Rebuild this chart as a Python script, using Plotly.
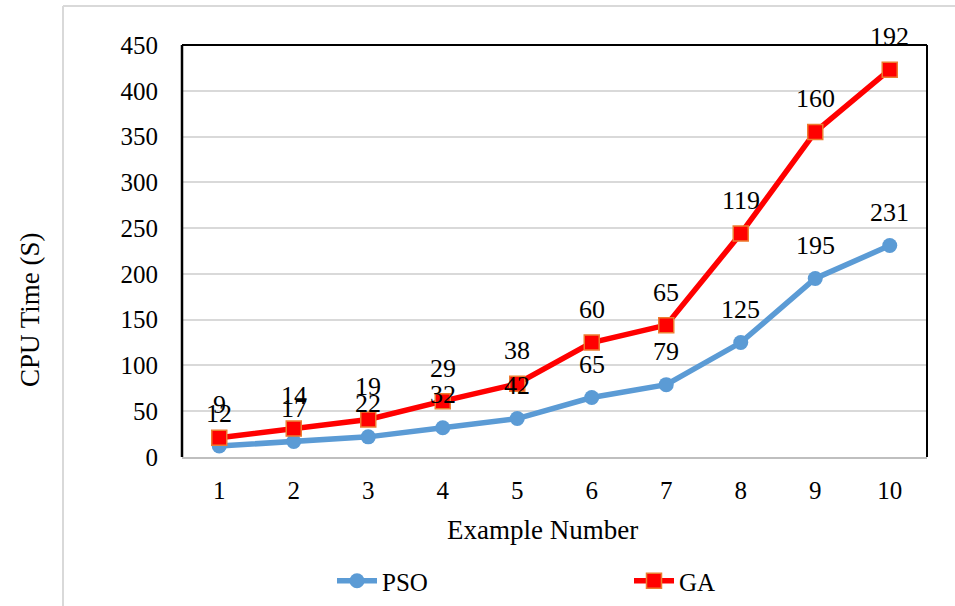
import plotly.graph_objects as go

examples = [1, 2, 3, 4, 5, 6, 7, 8, 9, 10]
pso_time = [12, 17, 22, 32, 42, 65, 79, 125, 195, 231]
ga_time = [9, 14, 19, 29, 38, 60, 65, 119, 160, 192]
y_ticks = [0, 50, 100, 150, 200, 250, 300, 350, 400, 450]

# Excel stacked line chart: GA plotted on top of PSO
ga_stacked = [p + g for p, g in zip(pso_time, ga_time)]

FONT = "Liberation Serif"
W, H = 955, 606
L, R, T, B = 182, 927, 45, 457

def px(x):
    return (x - L) / (R - L)

def py(y):
    return (B - y) / (B - T)

fig = go.Figure()
fig.add_trace(go.Scatter(
    x=examples, y=pso_time, name="PSO", mode="lines+markers",
    line=dict(color="#5B9BD5", width=5.5),
    marker=dict(symbol="circle", size=15, color="#5B9BD5"),
))
fig.add_trace(go.Scatter(
    x=examples, y=ga_stacked, name="GA", mode="lines+markers",
    line=dict(color="#FF0000", width=5.5),
    marker=dict(symbol="square", size=15, color="#FF0000",
                line=dict(color="#ED7D31", width=1.5)),
))

annotations = []
for xv, yv in zip(examples, pso_time):
    annotations.append(dict(x=xv, y=yv, text=str(yv), showarrow=False,
                            yshift=33, font=dict(family=FONT, size=26, color="#000")))
for xv, yv, lab in zip(examples, ga_stacked, ga_time):
    annotations.append(dict(x=xv, y=yv, text=str(lab), showarrow=False,
                            yshift=33, font=dict(family=FONT, size=26, color="#000")))

annotations.append(dict(xref="paper", yref="paper", x=px(30), y=py(310),
                        xanchor="center", yanchor="middle",
                        text="CPU Time (S)", textangle=-90, showarrow=False,
                        font=dict(family=FONT, size=27, color="#000")))
annotations.append(dict(xref="paper", yref="paper", x=px(542), y=py(530),
                        xanchor="center", yanchor="middle",
                        text="Example Number", showarrow=False,
                        font=dict(family=FONT, size=27, color="#000")))

shapes = [
    # outer chart border (light gray)
    dict(type="line", xref="paper", yref="paper", x0=px(63), x1=px(963),
         y0=py(6), y1=py(6), line=dict(color="#d9d9d9", width=2)),
    dict(type="line", xref="paper", yref="paper", x0=px(63), x1=px(63),
         y0=py(6), y1=py(620), line=dict(color="#d9d9d9", width=2)),
    # plot area frame (black left, top, right)
    dict(type="line", xref="paper", yref="paper", x0=0, x1=1, y0=1, y1=1,
         line=dict(color="#000", width=2)),
    dict(type="line", xref="paper", yref="paper", x0=1, x1=1, y0=0, y1=1,
         line=dict(color="#000", width=2)),
    dict(type="line", xref="paper", yref="paper", x0=0, x1=0, y0=0, y1=1,
         line=dict(color="#000", width=2.5)),
]

fig.update_layout(
    width=W, height=H,
    margin=dict(l=L, r=W - R, t=T, b=H - B, pad=0, autoexpand=False),
    paper_bgcolor="white", plot_bgcolor="white",
    font=dict(family=FONT, size=25, color="#000"),
    showlegend=True,
    legend=dict(orientation="h", x=px(332), y=py(581), xanchor="left", yanchor="middle",
                font=dict(family=FONT, size=25, color="#000"),
                entrywidth=242, itemwidth=40, bgcolor="rgba(0,0,0,0)"),
    annotations=annotations,
    shapes=shapes,
    xaxis=dict(range=[0.5, 10.5], tickmode="array", tickvals=examples,
               ticktext=[str(v) for v in examples],
               showgrid=False, zeroline=False, showline=True,
               linecolor="#bfbfbf", linewidth=2,
               ticks="outside", ticklen=10, tickcolor="rgba(0,0,0,0)",
               tickfont=dict(family=FONT, size=25, color="#000")),
    yaxis=dict(range=[0, 450], tickmode="array", tickvals=y_ticks,
               showgrid=True, gridcolor="#d9d9d9", gridwidth=2, zeroline=False,
               showline=False,
               ticks="outside", ticklen=18, tickcolor="rgba(0,0,0,0)",
               tickfont=dict(family=FONT, size=25, color="#000")),
)

fig.write_html("out.html")
